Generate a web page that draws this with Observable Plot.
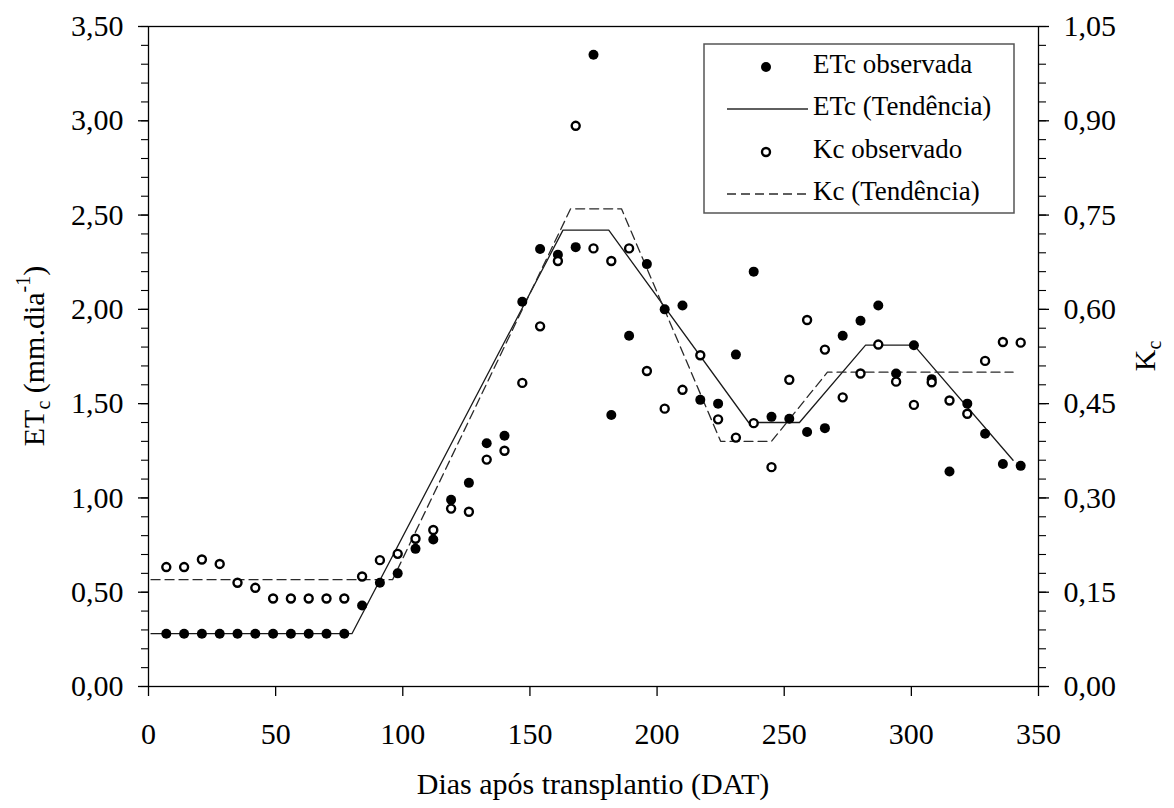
<!DOCTYPE html>
<html>
<head>
<meta charset="utf-8">
<script src="https://cdn.jsdelivr.net/npm/d3@7"></script>
<script src="https://cdn.jsdelivr.net/npm/@observablehq/plot@0.6"></script>
<style>
  html, body { margin: 0; padding: 0; background: #fff; }
  #chart { position: relative; width: 1174px; height: 808px; }
</style>
</head>
<body>
<div id="chart"></div>
<script>
// Days after transplanting (DAT) of each weekly observation
const days = [7, 14, 21, 28, 35, 42, 49, 56, 63, 70, 77, 84, 91, 98, 105, 112, 119, 126, 133, 140,
  147, 154, 161, 168, 175, 182, 189, 196, 203, 210, 217, 224, 231, 238, 245, 252, 259, 266, 273, 280,
  287, 294, 301, 308, 315, 322, 329, 336, 343];

// Observed crop evapotranspiration (mm/dia)
const etcObserved = [0.28, 0.28, 0.28, 0.28, 0.28, 0.28, 0.28, 0.28, 0.28, 0.28, 0.28, 0.43, 0.55, 0.60, 0.73, 0.78, 0.99, 1.08, 1.29, 1.33,
  2.04, 2.32, 2.29, 2.33, 3.35, 1.44, 1.86, 2.24, 2.00, 2.02, 1.52, 1.50, 1.76, 2.20, 1.43, 1.42, 1.35, 1.37, 1.86, 1.94,
  2.02, 1.66, 1.81, 1.63, 1.14, 1.50, 1.34, 1.18, 1.17];

// Observed crop coefficient
const kcObserved = [0.190, 0.190, 0.202, 0.195, 0.165, 0.157, 0.140, 0.140, 0.140, 0.140, 0.140, 0.175, 0.201, 0.211, 0.235, 0.249, 0.283, 0.278, 0.361, 0.375,
  0.483, 0.573, 0.677, 0.892, 0.697, 0.677, 0.697, 0.502, 0.442, 0.472, 0.527, 0.425, 0.396, 0.419, 0.349, 0.488, 0.583, 0.536, 0.460, 0.498,
  0.544, 0.485, 0.448, 0.484, 0.455, 0.434, 0.518, 0.548, 0.547];

// Piecewise trend lines (breakpoints)
const etcTrendDays = [1, 80, 163, 181, 236, 256, 282, 301, 340];
const etcTrendValues = [0.28, 0.28, 2.42, 2.42, 1.40, 1.40, 1.81, 1.81, 1.20];
const kcTrendDays = [1, 96, 166, 186, 225, 245, 267, 340];
const kcTrendValues = [0.17, 0.17, 0.76, 0.76, 0.39, 0.39, 0.50, 0.50];

// Axis ticks
const xTicks = [0, 50, 100, 150, 200, 250, 300, 350];
const etcTicks = [0, 0.5, 1.0, 1.5, 2.0, 2.5, 3.0, 3.5];
const kcTicks = [0, 0.15, 0.30, 0.45, 0.60, 0.75, 0.90, 1.05];

const ETC_MAX = 3.5, KC_MAX = 1.05;
const ratio = ETC_MAX / KC_MAX; // Kc drawn on the ETc scale

const obs = days.map((d, i) => ({day: d, etc: etcObserved[i], kc: kcObserved[i]}));
const etcTrend = etcTrendDays.map((d, i) => ({day: d, v: etcTrendValues[i]}));
const kcTrend = kcTrendDays.map((d, i) => ({day: d, v: kcTrendValues[i]}));

const comma = (v) => v.toFixed(2).replace(".", ",");
const etcMinor = d3.range(0, 35.5, 1).map(i => i / 10);
const kcMinor = d3.range(0, 35.5, 1).map(i => (i * 0.03) * ratio);

const FONT = "'Liberation Serif', 'Times New Roman', serif";
const W = 1174, H = 808;
const mL = 148, mR = 136, mT = 26, mB = 122;

const plot = Plot.plot({
  width: W,
  height: H,
  marginLeft: mL,
  marginRight: mR,
  marginTop: mT,
  marginBottom: mB,
  style: {fontFamily: FONT, fontSize: "30px", color: "black", background: "white", overflow: "visible"},
  x: {domain: [0, 350]},
  y: {domain: [0, ETC_MAX]},
  marks: [
    Plot.frame({stroke: "black", strokeWidth: 1.3}),
    Plot.axisX({ticks: xTicks, tickSize: 10, tickPadding: 26, tickFormat: d => String(d), label: null, fontSize: 30, strokeWidth: 1.3}),
    Plot.axisY({ticks: etcMinor, tickSize: 7, tickFormat: () => "", label: null, strokeWidth: 1.1}),
    Plot.axisY({ticks: etcTicks, tickSize: 10, tickPadding: 15, tickFormat: comma, label: null, fontSize: 30, strokeWidth: 1.3}),
    Plot.axisY({anchor: "right", ticks: kcMinor, tickSize: 7, tickFormat: () => "", label: null, strokeWidth: 1.1}),
    Plot.axisY({anchor: "right", ticks: kcTicks.map(k => k * ratio), tickSize: 10, tickPadding: 15,
      tickFormat: d => comma(d / ratio), label: null, fontSize: 30, strokeWidth: 1.3}),
    Plot.line(etcTrend, {x: "day", y: "v", stroke: "#1a1a1a", strokeWidth: 1.3}),
    Plot.line(kcTrend, {x: "day", y: d => d.v * ratio, stroke: "#2a2a2a", strokeWidth: 1.3, strokeDasharray: "9,5"}),
    Plot.dot(obs, {x: "day", y: "etc", r: 5, fill: "black", stroke: "none"}),
    Plot.dot(obs, {x: "day", y: d => d.kc * ratio, r: 4, fill: "white", stroke: "black", strokeWidth: 2.4})
  ]
});

document.getElementById("chart").appendChild(plot);

const svg = d3.select(plot);

// Axis titles
const leftTitle = svg.append("text")
  .attr("transform", `translate(37, ${(mT + H - mB) / 2}) rotate(-90)`)
  .attr("text-anchor", "middle")
  .attr("dominant-baseline", "middle")
  .attr("font-family", FONT).attr("font-size", 30).attr("fill", "black");
leftTitle.append("tspan").text("ET");
leftTitle.append("tspan").attr("font-size", 20).attr("dy", 8).text("c");
leftTitle.append("tspan").attr("dy", -8).text(" (mm.dia");
leftTitle.append("tspan").attr("font-size", 20).attr("dy", -12).text("-1");
leftTitle.append("tspan").attr("dy", 12).text(")");

const rightTitle = svg.append("text")
  .attr("transform", `translate(1148, ${(mT + H - mB) / 2}) rotate(-90)`)
  .attr("text-anchor", "middle")
  .attr("dominant-baseline", "middle")
  .attr("font-family", FONT).attr("font-size", 30).attr("fill", "black");
rightTitle.append("tspan").text("K");
rightTitle.append("tspan").attr("font-size", 20).attr("dy", 8).text("c");

svg.append("text")
  .attr("x", (mL + W - mR) / 2)
  .attr("y", 794)
  .attr("text-anchor", "middle")
  .attr("font-family", FONT).attr("font-size", 30).attr("fill", "black")
  .text("Dias após transplantio (DAT)");

// Legend box
const lg = svg.append("g").attr("font-family", FONT).attr("font-size", 27).attr("text-anchor", "start");
lg.append("rect").attr("x", 704).attr("y", 44).attr("width", 310).attr("height", 169)
  .attr("fill", "white").attr("stroke", "#555").attr("stroke-width", 1.5);
const rows = [
  {y: 67, label: "ETc observada", kind: "filled"},
  {y: 109, label: "ETc (Tendência)", kind: "solid"},
  {y: 152, label: "Kc observado", kind: "open"},
  {y: 194, label: "Kc (Tendência)", kind: "dashed"}
];
rows.forEach(r => {
  if (r.kind === "filled") {
    lg.append("circle").attr("cx", 766).attr("cy", r.y).attr("r", 5).attr("fill", "black");
  } else if (r.kind === "open") {
    lg.append("circle").attr("cx", 766).attr("cy", r.y).attr("r", 4).attr("fill", "white")
      .attr("stroke", "black").attr("stroke-width", 2.4);
  } else {
    lg.append("line").attr("x1", 727).attr("x2", 808).attr("y1", r.y).attr("y2", r.y)
      .attr("stroke", "#2a2a2a").attr("stroke-width", 1.3)
      .attr("stroke-dasharray", r.kind === "dashed" ? "9,5" : null);
  }
  lg.append("text").attr("x", 813).attr("y", r.y).attr("dominant-baseline", "middle")
    .attr("text-anchor", "start").attr("fill", "black").text(r.label);
});
</script>
</body>
</html>
